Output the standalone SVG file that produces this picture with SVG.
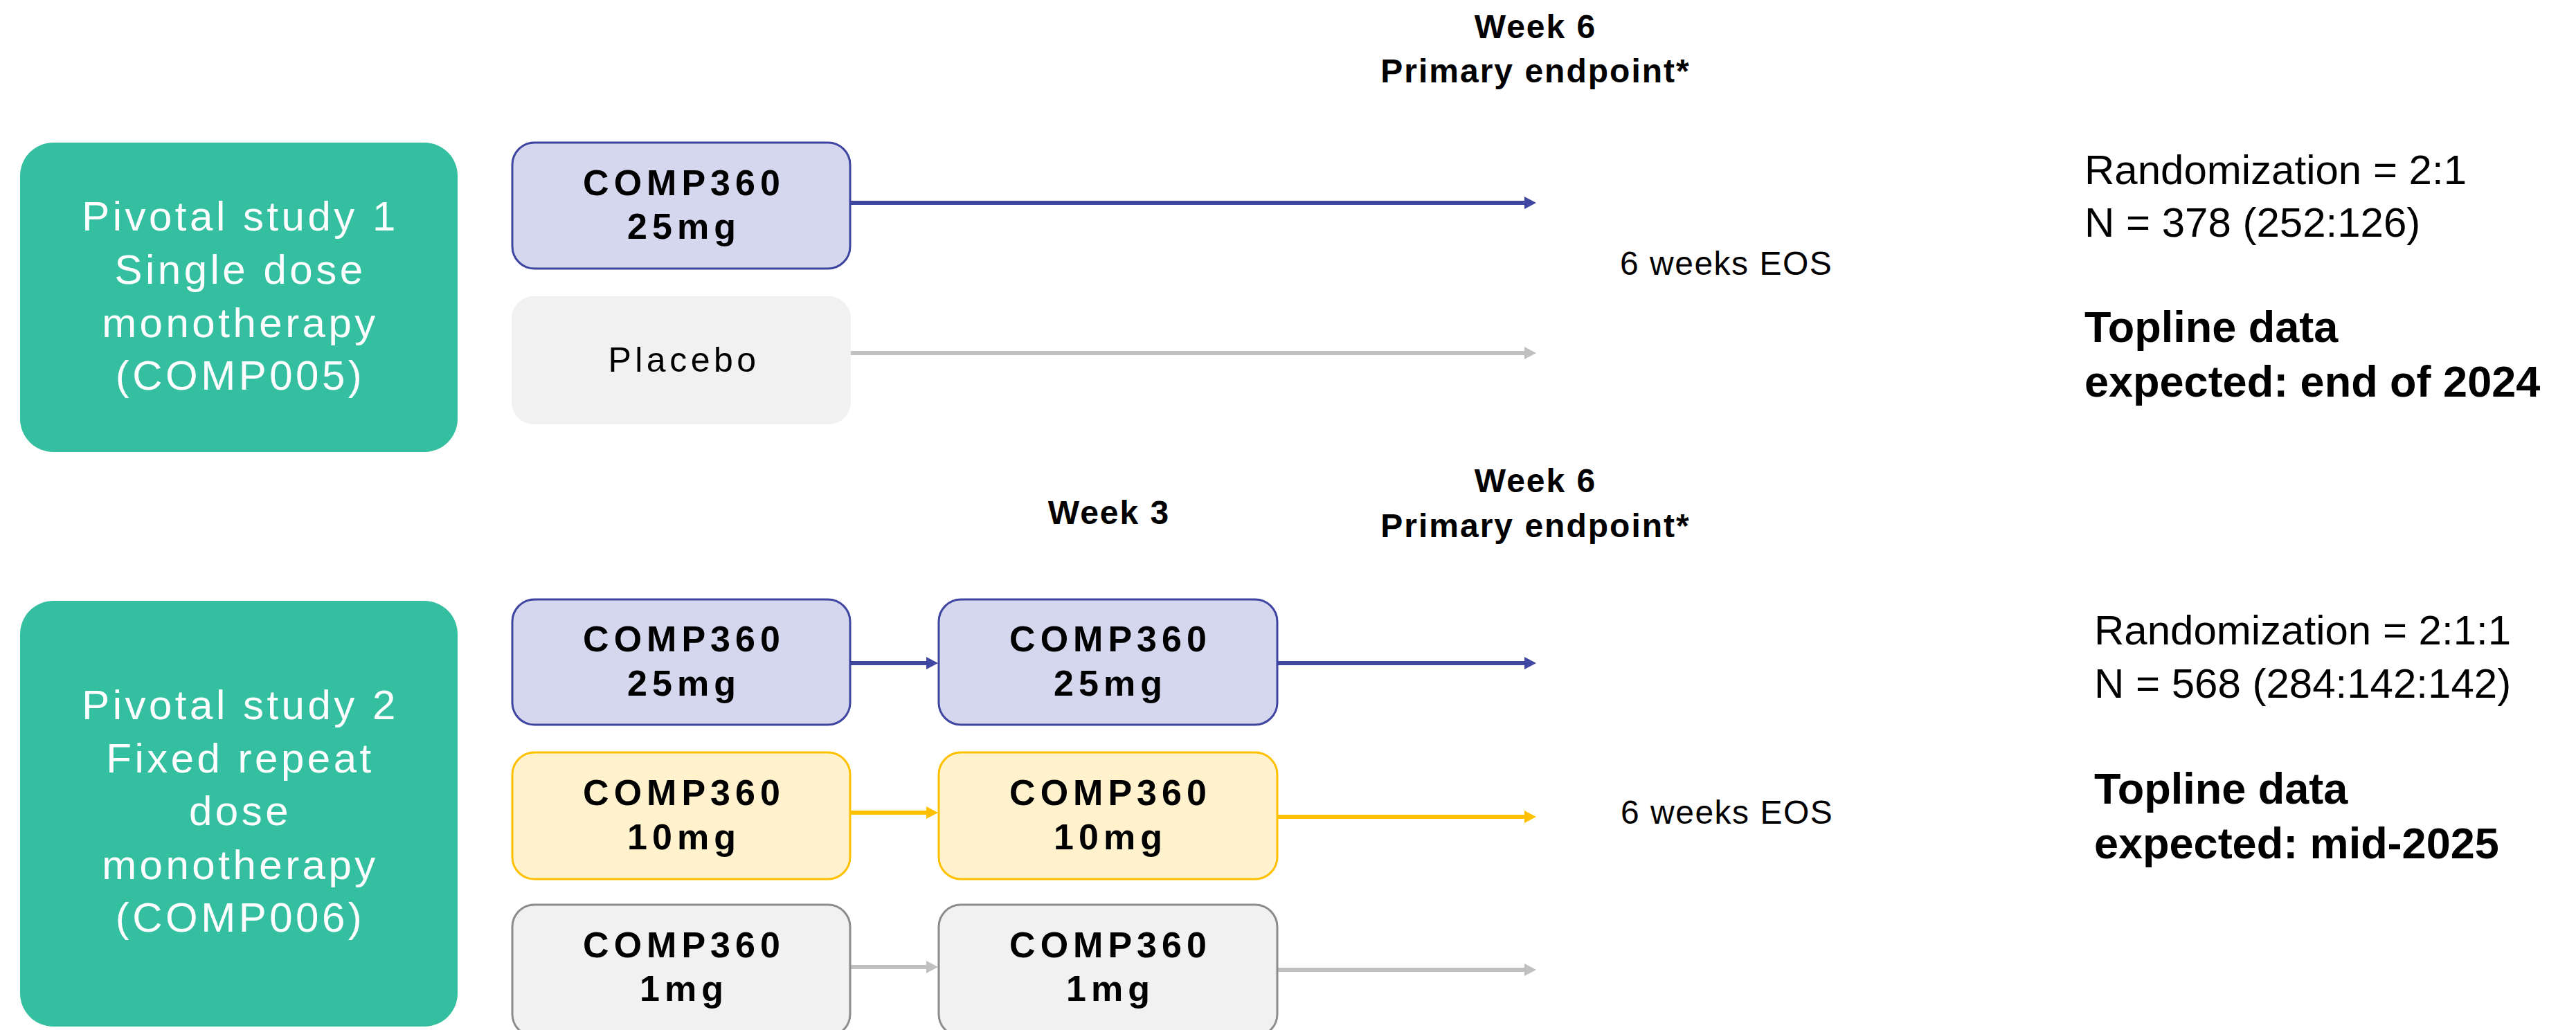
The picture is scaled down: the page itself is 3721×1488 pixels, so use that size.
<svg xmlns="http://www.w3.org/2000/svg" width="3721" height="1488" viewBox="0 0 3721 1488">
<style>
.study{fill:#33BFA0}
.stxt{font-family:"Liberation Sans",Arial,sans-serif;font-size:60px;fill:#ffffff;letter-spacing:4.5px;text-anchor:middle}
.blue{fill:#D5D7EE;stroke:#3D45A0;stroke-width:3}
.yellow{fill:#FFF2CC;stroke:#FFC000;stroke-width:3}
.grey{fill:#F1F1F1;stroke:#8C8C8C;stroke-width:3}
.plac{fill:#F1F1F1}
.btxt{font-family:"Liberation Sans",Arial,sans-serif;font-size:52px;font-weight:bold;fill:#000;letter-spacing:7px;text-anchor:middle}
.ptxt{font-family:"Liberation Sans",Arial,sans-serif;font-size:50px;fill:#000;letter-spacing:5.5px;text-anchor:middle}
.hdr{font-family:"Liberation Sans",Arial,sans-serif;font-size:48px;font-weight:bold;fill:#000;letter-spacing:2px;text-anchor:middle}
.eos{font-family:"Liberation Sans",Arial,sans-serif;font-size:48px;fill:#000;letter-spacing:1.5px}
.info{font-family:"Liberation Sans",Arial,sans-serif;font-size:60px;fill:#000}
.top{font-family:"Liberation Sans",Arial,sans-serif;font-size:63px;font-weight:bold;fill:#000}
.lb{stroke:#3F47A0;stroke-width:6;fill:none}
.ly{stroke:#FFC000;stroke-width:6;fill:none}
.lg{stroke:#C0C0C0;stroke-width:6;fill:none}
</style>
<defs>
<marker id="ab" markerUnits="userSpaceOnUse" markerWidth="18" markerHeight="18" refX="2" refY="9" orient="auto"><path d="M0,0 L17,9 L0,18 Z" fill="#3F47A0"/></marker>
<marker id="ay" markerUnits="userSpaceOnUse" markerWidth="18" markerHeight="18" refX="2" refY="9" orient="auto"><path d="M0,0 L17,9 L0,18 Z" fill="#FFC000"/></marker>
<marker id="ag" markerUnits="userSpaceOnUse" markerWidth="18" markerHeight="18" refX="2" refY="9" orient="auto"><path d="M0,0 L17,9 L0,18 Z" fill="#C0C0C0"/></marker>
</defs>
<rect width="3721" height="1488" fill="#ffffff"/>

<g id="connectors">
<line class="lb" x1="1228" y1="293" x2="2204" y2="293" marker-end="url(#ab)"/>
<line class="lg" x1="1229" y1="510" x2="2204" y2="510" marker-end="url(#ag)"/>
<line class="lb" x1="1228" y1="958" x2="1340" y2="958" marker-end="url(#ab)"/>
<line class="lb" x1="1845" y1="958" x2="2204" y2="958" marker-end="url(#ab)"/>
<line class="ly" x1="1228" y1="1174" x2="1340" y2="1174" marker-end="url(#ay)"/>
<line class="ly" x1="1845" y1="1180" x2="2204" y2="1180" marker-end="url(#ay)"/>
<line class="lg" x1="1228" y1="1397" x2="1340" y2="1397" marker-end="url(#ag)"/>
<line class="lg" x1="1845" y1="1401" x2="2204" y2="1401" marker-end="url(#ag)"/>
</g>

<g id="study1">
<rect class="study" x="29" y="206" width="632" height="447" rx="48"/>
<text class="stxt"><tspan x="347" y="333">Pivotal study 1</tspan><tspan x="347" y="410">Single dose</tspan><tspan x="347" y="487">monotherapy</tspan><tspan x="347" y="563">(COMP005)</tspan></text>
</g>
<g id="s1-25mg">
<rect class="blue" x="740" y="206" width="488" height="182" rx="32"/>
<text class="btxt"><tspan x="988" y="282">COMP360</tspan><tspan x="988" y="345">25mg</tspan></text>
</g>
<g id="s1-placebo">
<rect class="plac" x="739" y="428" width="490" height="185" rx="32"/>
<text class="ptxt" x="988" y="537">Placebo</text>
</g>
<g id="s1-header">
<text class="hdr"><tspan x="2218" y="55">Week 6</tspan><tspan x="2218" y="119">Primary endpoint*</tspan></text>
</g>
<g id="s1-eos"><text class="eos" x="2340" y="397">6 weeks EOS</text></g>
<g id="s1-info">
<text class="info"><tspan x="3011" y="266">Randomization = 2:1</tspan><tspan x="3011" y="342">N = 378 (252:126)</tspan></text>
<text class="top"><tspan x="3011" y="494">Topline data</tspan><tspan x="3011" y="573">expected: end of 2024</tspan></text>
</g>

<g id="study2">
<rect class="study" x="29" y="868" width="632" height="615" rx="48"/>
<text class="stxt"><tspan x="347" y="1039">Pivotal study 2</tspan><tspan x="347" y="1116">Fixed repeat</tspan><tspan x="347" y="1192">dose</tspan><tspan x="347" y="1270">monotherapy</tspan><tspan x="347" y="1346">(COMP006)</tspan></text>
</g>
<g id="s2-week3"><text class="hdr" x="1602" y="757">Week 3</text></g>
<g id="s2-header">
<text class="hdr"><tspan x="2218" y="711">Week 6</tspan><tspan x="2218" y="776">Primary endpoint*</tspan></text>
</g>
<g id="s2-25mg-a">
<rect class="blue" x="740" y="866" width="488" height="181" rx="32"/>
<text class="btxt"><tspan x="988" y="941">COMP360</tspan><tspan x="988" y="1005">25mg</tspan></text>
</g>
<g id="s2-25mg-b">
<rect class="blue" x="1356" y="866" width="489" height="181" rx="32"/>
<text class="btxt"><tspan x="1604" y="941">COMP360</tspan><tspan x="1604" y="1005">25mg</tspan></text>
</g>
<g id="s2-10mg-a">
<rect class="yellow" x="740" y="1087" width="488" height="183" rx="32"/>
<text class="btxt"><tspan x="988" y="1163">COMP360</tspan><tspan x="988" y="1227">10mg</tspan></text>
</g>
<g id="s2-10mg-b">
<rect class="yellow" x="1356" y="1087" width="489" height="183" rx="32"/>
<text class="btxt"><tspan x="1604" y="1163">COMP360</tspan><tspan x="1604" y="1227">10mg</tspan></text>
</g>
<g id="s2-1mg-a">
<rect class="grey" x="740" y="1307" width="488" height="190" rx="32"/>
<text class="btxt"><tspan x="988" y="1383">COMP360</tspan><tspan x="988" y="1446">1mg</tspan></text>
</g>
<g id="s2-1mg-b">
<rect class="grey" x="1356" y="1307" width="489" height="190" rx="32"/>
<text class="btxt"><tspan x="1604" y="1383">COMP360</tspan><tspan x="1604" y="1446">1mg</tspan></text>
</g>
<g id="s2-eos"><text class="eos" x="2341" y="1190">6 weeks EOS</text></g>
<g id="s2-info">
<text class="info"><tspan x="3025" y="931">Randomization = 2:1:1</tspan><tspan x="3025" y="1008">N = 568 (284:142:142)</tspan></text>
<text class="top"><tspan x="3025" y="1161">Topline data</tspan><tspan x="3025" y="1240">expected: mid-2025</tspan></text>
</g>
</svg>
